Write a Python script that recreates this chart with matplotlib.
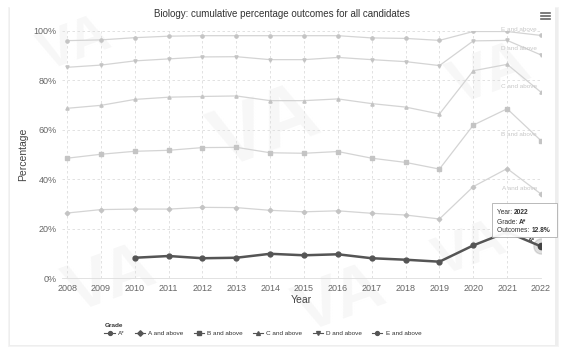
import matplotlib.pyplot as plt
import numpy as np
from matplotlib.lines import Line2D
from matplotlib.patches import Rectangle, FancyBboxPatch

plt.rcParams['font.family'] = ['Liberation Sans', 'DejaVu Sans']

W, H = 563, 351

years = list(range(2008, 2023))
grades = ['A*', 'A and above', 'B and above', 'C and above', 'D and above', 'E and above']
a_star = [np.nan, np.nan, 8.2, 8.9, 8.0, 8.2, 9.8, 9.2, 9.6, 8.0, 7.4, 6.6, 13.2, 18.6, 12.8]
a_above = [26.3, 27.7, 27.9, 27.9, 28.6, 28.5, 27.4, 26.8, 27.2, 26.2, 25.5, 23.9, 37.0, 44.3, 34.0]
b_above = [48.5, 50.1, 51.3, 51.7, 52.8, 52.9, 50.7, 50.5, 51.2, 48.5, 46.8, 44.1, 61.9, 68.5, 55.6]
c_above = [68.7, 69.9, 72.3, 73.2, 73.5, 73.7, 71.8, 71.8, 72.5, 70.6, 69.2, 66.4, 83.9, 86.5, 75.2]
d_above = [85.3, 86.2, 87.9, 88.7, 89.5, 89.6, 88.4, 88.4, 89.3, 88.4, 87.6, 86.0, 96.0, 96.2, 90.3]
e_above = [96.1, 96.4, 97.3, 97.9, 98.1, 98.1, 98.1, 98.1, 98.1, 97.2, 97.0, 96.2, 99.8, 99.8, 98.2]
series = [a_star, a_above, b_above, c_above, d_above, e_above]
markers = ['o', 'D', 's', '^', 'v', 'o']


def fx(x):
    return x / W


def fy(y):
    return 1 - y / H


fig = plt.figure(figsize=(W / 100, H / 100), dpi=100)
fig.patch.set_facecolor('white')

# card with soft shadow
for i, c in enumerate(['#f4f4f4', '#eeeeee']):
    fig.add_artist(Rectangle((fx(10 - 2 + i), fy(347 - i)), fx(547 - 2 * i + 4), (340 - 2 * i) / H,
                             transform=fig.transFigure, facecolor=c, edgecolor='none', zorder=0))
fig.add_artist(Rectangle((fx(10), fy(345)), fx(545), 338 / H, transform=fig.transFigure,
                         facecolor='white', edgecolor='none', zorder=0))

# faint watermark (kept behind the axes)
for (x, y, s) in [(75, 45, 40), (265, 130, 60), (110, 280, 50), (490, 75, 45), (340, 300, 50), (470, 250, 40)]:
    fig.text(fx(x), fy(y), 'VA', fontsize=s, fontweight='bold', color='#f7f7f7',
             rotation=20, ha='center', va='center', zorder=0.5)

ax = fig.add_axes([fx(62), fy(278), fx(541 - 62), 247 / H])
ax.set_zorder(2)
ax.patch.set_alpha(0)
ax.set_xlim(2007.85, 2022.0)
ax.set_ylim(0, 100)

for vals, m in zip(series[1:], markers[1:]):
    ax.plot(years, vals, color='#d4d4d4', lw=0.9, marker=m, ms=2.3,
            mfc='#c4c4c4', mec='#c4c4c4', zorder=2)
ax.plot(years, a_star, color='#555555', lw=1.8, marker='o', ms=3.5,
        mfc='#555555', mec='#555555', zorder=4)
ax.plot([years[-1]], [a_star[-1]], 'o', ms=11, color='#555555', alpha=0.18, zorder=3)
ax.plot([years[-1]], [a_star[-1]], 'o', ms=4.5, color='#444444', zorder=5)

# end labels
for vals, g in zip(series[1:], grades[1:]):
    ax.annotate(g, (years[-1], vals[-1]), xytext=(-4, 6), textcoords='offset pixels',
                ha='right', va='center', fontsize=4.6, color='#c8c8c8')
ax.annotate('A*', (years[-1], a_star[-1]), xytext=(-10, 6), textcoords='offset pixels',
            ha='center', va='center', fontsize=4.6, color='#333333', fontweight='bold')

ax.set_xticks(years)
ax.set_yticks(range(0, 101, 20))
ax.set_yticklabels([f'{v}%' for v in range(0, 101, 20)])
ax.grid(True, color='#dddddd', ls=(0, (3, 3)), lw=0.6)
ax.tick_params(length=0, labelsize=6.5, labelcolor='#666666', pad=4)
for s in ['top', 'right', 'left']:
    ax.spines[s].set_visible(False)
ax.spines['bottom'].set_color('#dddddd')
ax.spines['bottom'].set_linewidth(0.6)
ax.set_xlabel('Year', fontsize=7.5, color='#444444', labelpad=2)
ax.set_ylabel('Percentage', fontsize=7.5, color='#444444', labelpad=4)

fig.text(fx(282), fy(14), 'Biology: cumulative percentage outcomes for all candidates',
         ha='center', va='center', fontsize=7, color='#333333', zorder=3)

# menu icon
for yy in [13, 16, 19]:
    fig.add_artist(Line2D([fx(541), fx(550)], [fy(yy), fy(yy)], color='#666666', lw=1.2,
                          transform=fig.transFigure, zorder=3))

# legend
handles = [Line2D([0], [0], color='#555555', lw=0.8, marker=m, ms=2.8) for m in markers]
leg = fig.legend(handles, grades, title='Grade', ncol=6, loc='upper left',
                 bbox_to_anchor=(fx(100), fy(319)), frameon=False, fontsize=4.6,
                 title_fontsize=4.6, alignment='left', handlelength=1.6, handletextpad=0.5,
                 columnspacing=1.6, labelspacing=0.3, borderpad=0.2)
leg.set_zorder(3)
leg.get_title().set_fontweight('bold')
leg.get_title().set_color('#333333')
for t in leg.get_texts():
    t.set_color('#333333')

# tooltip
box = FancyBboxPatch((fx(492), fy(237)), fx(65), 34 / H, boxstyle='square,pad=0',
                     transform=fig.transFigure, facecolor='white', edgecolor='#aaaaaa',
                     lw=0.6, alpha=0.95, zorder=10)
fig.add_artist(box)
fig.canvas.draw()
rend = fig.canvas.get_renderer()
for yy, lab, val in [(212, 'Year: ', '2022'), (222, 'Grade: ', 'A*'), (231, 'Outcomes: ', '12.8%')]:
    t = fig.text(fx(497), fy(yy), lab, fontsize=4.8, color='#333333', va='center', zorder=11)
    bb = t.get_window_extent(rend)
    fig.text(bb.x1 / W, fy(yy), val, fontsize=4.8, color='#333333', fontweight='bold',
             va='center', zorder=11)

fig.savefig('out.png', dpi=100, facecolor='white')
